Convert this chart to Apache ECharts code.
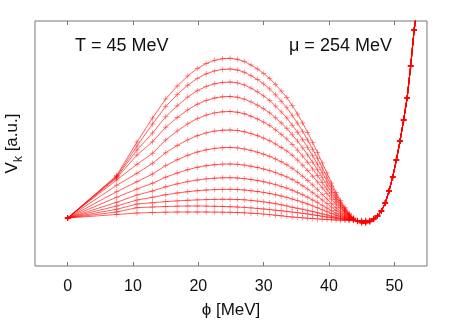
<!DOCTYPE html>
<html>
<head>
<meta charset="utf-8">
<script src="https://cdn.jsdelivr.net/npm/echarts@6/dist/echarts.min.js"></script>
<style>html,body{margin:0;padding:0;background:#fff}#c{width:457px;height:320px}</style>
</head>
<body>
<div id="c"></div>
<script>
// phi grid [MeV]
var phi = [0, 7.5, 10.61, 12.99, 15, 16.77, 18.37, 19.84, 21.21, 22.5, 23.72, 24.87, 25.98, 27.04, 28.06, 29.05, 30, 30.92, 31.82, 32.69, 33.54, 34.37, 35.18, 35.97, 36.74, 37.5, 38.24, 38.97, 39.69, 40.39, 41.08, 41.76, 42.43, 43.08, 43.73, 44.37, 45, 45.62, 46.23, 46.84, 47.43, 48.02, 48.61, 49.18, 49.75, 50.31, 50.87, 51.42, 51.96, 52.5, 53.03, 53.56];
// common right branch (phi >= 47.4), arbitrary units
var rightBranch = [50, 55, 63, 75, 89, 106, 125, 146, 168, 200, 236, 261];
// left parts of each V_k curve (phi = 0 ... 46.84), arbitrary units
var curve0 = [48, 90.5, 124, 148, 167, 180, 190, 197.5, 202.5, 205.7, 207.3, 207.7, 206.7, 204.5, 201, 197, 192.5, 187.5, 181.5, 175, 168.5, 160.5, 152, 143, 133.5, 123.5, 113.5, 103, 93, 83, 73.5, 65.5, 58.5, 52.5, 48, 44.5, 42.7, 42.7, 44, 46.5];
var curve1 = [48, 89.7, 120, 142, 159.5, 171.5, 180.7, 187.6, 192.2, 195.1, 196.6, 197, 196, 193.8, 190.4, 186.5, 182.1, 177.1, 171.2, 164.8, 158.4, 150.6, 142.9, 134.6, 126, 116.8, 107.7, 98.1, 88.9, 79.8, 71.1, 63.9, 57.4, 51.9, 47.8, 44.6, 43, 43, 44.2, 46.6];
var curve2 = [48, 89, 116, 133, 149.2, 160.3, 168.9, 175.3, 179.6, 182.3, 183.6, 184, 183.1, 181.1, 177.9, 174.2, 170.1, 165.5, 160, 154.1, 148.1, 140.8, 133.8, 126.3, 118.4, 110.2, 101.9, 93.2, 84.9, 76.6, 68.7, 62.1, 56.3, 51.3, 47.6, 44.7, 43.2, 43.2, 44.3, 46.7];
var curve3 = [48, 88, 111, 124.3, 138.7, 148.5, 156.1, 161.8, 165.6, 168, 169.2, 169.5, 168.7, 166.9, 164.1, 160.8, 157.2, 153.1, 148.2, 143, 137.7, 131.2, 124.9, 118.1, 111.1, 103.7, 96.2, 88.4, 80.9, 73.5, 66.4, 60.5, 55.3, 50.8, 47.4, 44.8, 43.5, 43.5, 44.4, 46.8];
var curve4 = [48, 86, 101.7, 112.7, 126, 135.1, 142.1, 147.4, 150.9, 153.1, 154.2, 154.5, 153.8, 152.3, 149.8, 147, 143.9, 140.4, 136.2, 131.6, 127.1, 121.5, 115.9, 109.9, 103.7, 97.1, 90.5, 83.5, 76.9, 70.3, 64, 58.8, 54.1, 50.2, 47.2, 44.9, 43.7, 43.7, 44.5, 46.9];
var curve5 = [48, 80.7, 92.7, 102.7, 113.3, 120.5, 126.1, 130.3, 133.1, 134.9, 135.8, 136, 135.5, 134.3, 132.4, 130.3, 127.9, 125.2, 122, 118.5, 115.1, 110.8, 106, 100.8, 95.5, 89.8, 84.1, 78.2, 72.5, 66.8, 61.4, 57, 53, 49.5, 47, 45, 44, 44, 44.7, 47];
var curve6 = [48, 74.3, 84.3, 92, 100.4, 106.2, 110.7, 114, 116.2, 117.6, 118.3, 118.5, 118.1, 117.1, 115.6, 113.8, 111.8, 109.6, 107, 104.2, 101.3, 97.8, 93.9, 89.8, 85.5, 81, 76.4, 71.6, 67.1, 62.5, 58.2, 54.6, 51.4, 48.6, 46.6, 45, 44.2, 44.2, 44.8, 47];
var curve7 = [48, 68.7, 77, 82.7, 88.8, 93, 96.3, 98.7, 100.3, 101.3, 101.9, 102, 101.7, 100.9, 99.8, 98.5, 97, 95.4, 93.4, 91.3, 89.1, 86.5, 83.5, 80.2, 76.9, 73.3, 69.7, 66, 62.4, 58.9, 55.5, 52.6, 50.1, 48, 46.4, 45.1, 44.5, 44.5, 44.9, 47.1];
var curve8 = [48, 63.7, 71, 75, 79.2, 82.1, 84.4, 86, 87.1, 87.8, 88.2, 88.3, 88, 87.4, 86.5, 85.5, 84.3, 82.9, 81.4, 79.6, 77.9, 75.8, 73.6, 71.2, 68.7, 66, 63.4, 60.6, 58, 55.3, 52.8, 50.7, 48.9, 47.3, 46.1, 45.2, 44.7, 44.7, 45, 47.2];
var curve9 = [48, 60, 66, 68.7, 71.2, 73, 74.3, 75.3, 76, 76.4, 76.6, 76.7, 76.5, 76, 75.3, 74.5, 73.6, 72.5, 71.3, 70, 68.6, 67, 65.4, 63.7, 62, 60.1, 58.2, 56.3, 54.4, 52.5, 50.7, 49.3, 47.9, 46.8, 46, 45.3, 45, 45, 45.2, 47.3];
var curve10 = [48, 56.7, 62, 63.3, 64.4, 65.1, 65.7, 66.1, 66.4, 66.6, 66.7, 66.7, 66.5, 66.2, 65.6, 64.9, 64.1, 63.3, 62.3, 61.2, 60.1, 58.7, 57.7, 56.7, 55.6, 54.5, 53.3, 52.1, 51, 49.8, 48.7, 47.8, 47, 46.3, 45.8, 45.4, 45.2, 45.2, 45.3, 47.4];
var curve11 = [48, 54, 58.3, 59, 59.5, 59.8, 60, 60, 59.9, 59.7, 59.5, 59.3, 59, 58.6, 58.1, 57.6, 57, 56.4, 55.8, 55.2, 54.6, 53.9, 53.3, 52.6, 52, 51.2, 50.5, 49.8, 49, 48.3, 47.6, 47, 46.5, 46.1, 45.8, 45.5, 45.4, 45.4, 45.6, 47.5];
var curve12 = [48, 51.5, 53, 53.5, 53.8, 54, 54, 54, 54, 53.9, 53.8, 53.7, 53.5, 53.2, 52.8, 52.4, 51.9, 51.4, 50.8, 50.2, 49.6, 49, 48.6, 48.2, 47.8, 47.5, 47.1, 46.8, 46.5, 46.2, 46, 45.8, 45.7, 45.6, 45.5, 45.5, 45.5, 45.5, 45.8, 47.5];
var xTicks = [0, 10, 20, 30, 40, 50];
var labelT = 'T = 45 MeV';
var labelMu = 'μ = 254 MeV';

var curves = [curve0, curve1, curve2, curve3, curve4, curve5, curve6, curve7, curve8, curve9, curve10, curve11, curve12];
var plus = 'path://M-0.16,-1 L0.16,-1 L0.16,-0.16 L1,-0.16 L1,0.16 L0.16,0.16 L0.16,1 L-0.16,1 L-0.16,0.16 L-1,0.16 L-1,-0.16 L-0.16,-0.16 Z';
var FONT = '"Liberation Sans", Arial, Helvetica, sans-serif';

var series = curves.map(function (c, i) {
  var vals = c.concat(rightBranch);
  return {
    type: 'line',
    name: 'k' + i,
    data: phi.map(function (x, j) { return [x, vals[j]]; }),
    lineStyle: { color: 'rgba(255,0,0,0.8)', width: 0.8 },
    itemStyle: { color: 'rgba(255,0,0,0.45)' },
    symbol: plus,
    symbolSize: 5.5,
    showSymbol: true,
    clip: true,
    silent: true
  };
});

var chart = echarts.init(document.getElementById('c'), null, { renderer: 'canvas' });
chart.setOption({
  animation: false,
  backgroundColor: '#fff',
  grid: { left: 35, right: 30, top: 21, bottom: 54, show: true, borderColor: '#777', borderWidth: 1, backgroundColor: 'transparent', containLabel: false, outerBoundsMode: 'none' },
  xAxis: [{
    type: 'value', min: -5, max: 55, position: 'bottom',
    axisLine: { show: false },
    axisTick: { show: true, inside: true, length: 4, lineStyle: { color: '#777' }, customValues: xTicks },
    axisLabel: { show: true, customValues: xTicks, color: '#111', fontSize: 16, fontFamily: FONT, margin: 13 },
    splitLine: { show: false },
    name: 'ϕ [MeV]', nameLocation: 'middle', nameGap: 36,
    nameTextStyle: { color: '#111', fontSize: 17, fontFamily: FONT }
  }, {
    type: 'value', min: -5, max: 55, position: 'top',
    axisLine: { show: false },
    axisTick: { show: true, inside: true, length: 4, lineStyle: { color: '#777' }, customValues: xTicks },
    axisLabel: { show: false },
    splitLine: { show: false }
  }],
  yAxis: {
    type: 'value', min: 0, max: 245,
    axisLine: { show: false }, axisTick: { show: false }, axisLabel: { show: false }, splitLine: { show: false },
    name: '{a|V}{s|k}{a| [a.u.]}', nameLocation: 'middle', nameGap: 14,
    nameTextStyle: {
      color: '#111', fontFamily: FONT,
      rich: {
        a: { fontSize: 17, fontFamily: FONT, color: '#111', lineHeight: 17, verticalAlign: 'top' },
        s: { fontSize: 12, fontFamily: FONT, color: '#111', lineHeight: 12, verticalAlign: 'top', padding: [9, 0, 0, 0] }
      }
    }
  },
  graphic: [
    { type: 'text', left: 75, top: 37, style: { text: labelT, fontSize: 18, fontFamily: FONT, fill: '#111' } },
    { type: 'text', left: 289, top: 37, style: { text: labelMu, fontSize: 18, fontFamily: FONT, fill: '#111' } }
  ],
  series: series
});
</script>
</body>
</html>
